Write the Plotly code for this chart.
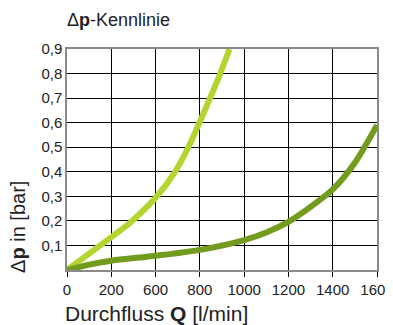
import plotly.graph_objects as go

# x positions are grid positions (0..7) that carry the printed tick labels
x_tick_pos = [0, 1, 2, 3, 4, 5, 6, 7]
x_tick_labels = ["0", "200", "600", "800", "1000", "1200", "1400", "1600"]
y_tick_vals = [0.1, 0.2, 0.3, 0.4, 0.5, 0.6, 0.7, 0.8, 0.9]
y_tick_labels = ["0,1", "0,2", "0,3", "0,4", "0,5", "0,6", "0,7", "0,8", "0,9"]

light_x = [0, 0.75, 1.47, 2.03, 2.44, 2.74, 2.99, 3.23, 3.46, 3.67]
light_y = [0, 0.1, 0.2, 0.3, 0.4, 0.5, 0.6, 0.7, 0.8, 0.9]

dark_x = [0, 0.5, 1, 2, 3, 4, 4.5, 5, 5.5, 6, 6.5, 7]
dark_y = [0, 0.022, 0.038, 0.058, 0.082, 0.122, 0.153, 0.196, 0.257, 0.328, 0.437, 0.59]

LIGHT = "#b4d530"
DARK = "#739c1f"
FRAME = "#8a8a8a"
REG = "Liberation Sans, Arial, sans-serif"

fig = go.Figure()
fig.add_trace(go.Scatter(x=light_x, y=light_y, mode="lines",
                         line=dict(color=LIGHT, width=6, shape="spline", smoothing=0.8),
                         showlegend=False, hoverinfo="skip"))
fig.add_trace(go.Scatter(x=dark_x, y=dark_y, mode="lines",
                         line=dict(color=DARK, width=6, shape="spline", smoothing=0.8),
                         showlegend=False, hoverinfo="skip"))

# page body has an 8px margin, so the figure is 8px smaller on each axis
fig.update_layout(
    width=385, height=317,
    margin=dict(l=59, r=16, t=41, b=55, autoexpand=False),
    paper_bgcolor="white", plot_bgcolor="white",
    xaxis=dict(range=[0, 7], tickmode="array", tickvals=x_tick_pos, ticktext=x_tick_labels,
               showgrid=True, gridcolor="black", gridwidth=1,
               showline=True, linecolor=FRAME, linewidth=1.5, mirror=True,
               ticks="outside", ticklen=5, tickcolor="black", tickwidth=1,
               zeroline=False, layer="below traces", ticklabeloverflow="allow",
               automargin=False,
               tickfont=dict(family=REG, size=15, color="#222")),
    yaxis=dict(range=[0, 0.9], tickmode="array", tickvals=y_tick_vals, ticktext=y_tick_labels,
               showgrid=True, gridcolor="black", gridwidth=1,
               showline=True, linecolor=FRAME, linewidth=1.5, mirror=True,
               ticks="", zeroline=False, layer="below traces", automargin=False,
               tickfont=dict(family=REG, size=15, color="#222")),
    annotations=[
        dict(text="Δ<b>p</b>-Kennlinie", xref="paper", yref="paper",
             x=-0.006, y=1.131, xanchor="left", yanchor="middle", showarrow=False,
             font=dict(family=REG, size=18, color="#222")),
        dict(text="Durchfluss <b>Q</b> [l/min]", xref="paper", yref="paper",
             x=-0.013, y=-0.195, xanchor="left", yanchor="middle", showarrow=False,
             font=dict(family=REG, size=21, color="#222")),
        dict(text="Δ<b>p</b> in [bar]", xref="paper", yref="paper",
             x=-0.158, y=0.195, xanchor="center", yanchor="middle", showarrow=False,
             textangle=-90, font=dict(family=REG, size=20, color="#222")),
    ],
)

fig.write_html("out.html", config={"displayModeBar": False})
